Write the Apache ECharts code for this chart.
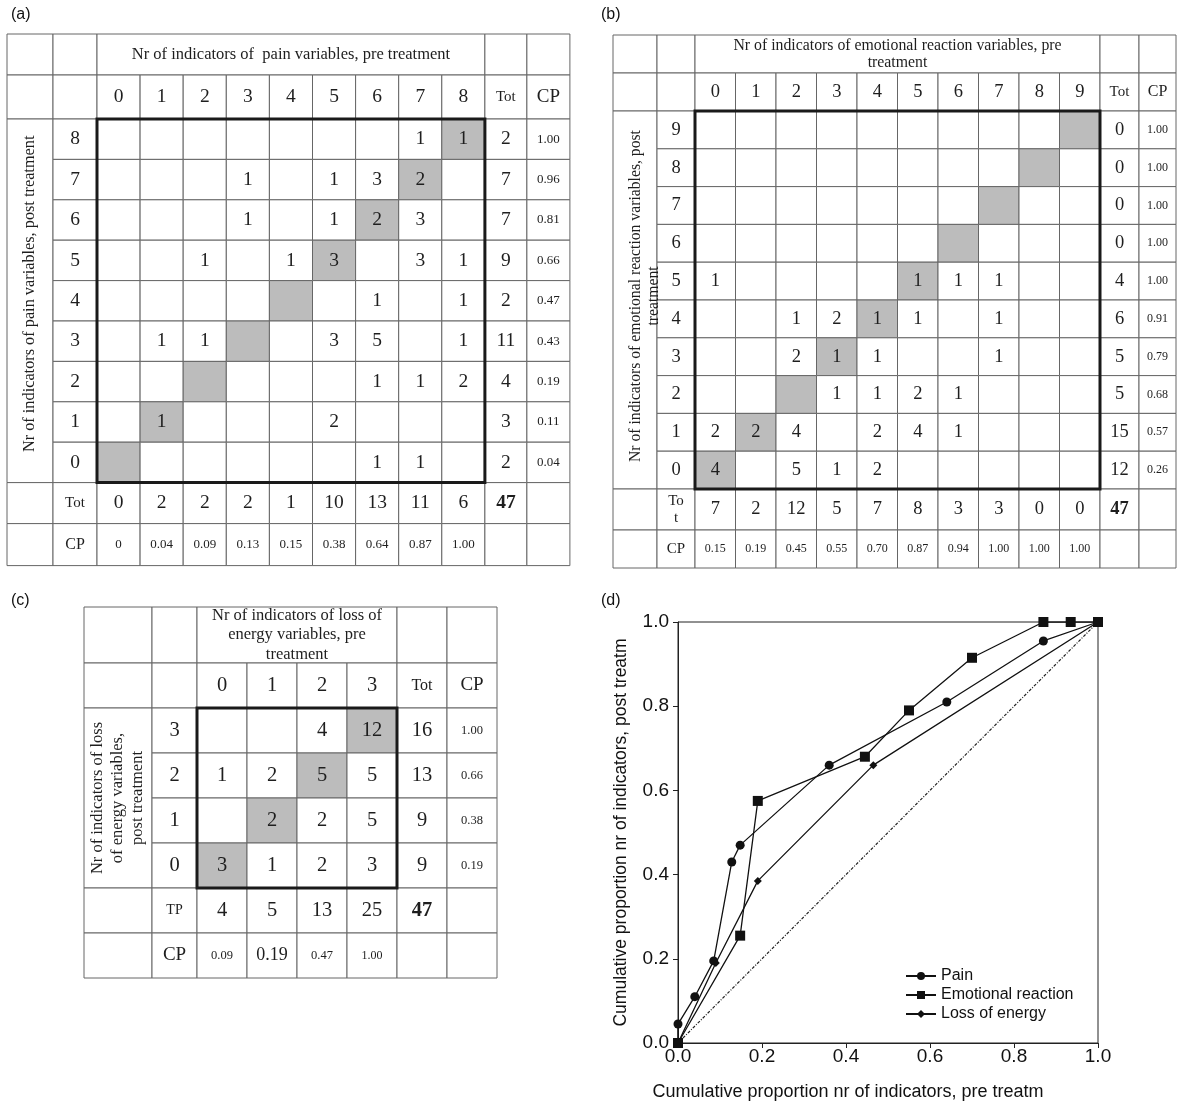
<!DOCTYPE html>
<html>
<head>
<meta charset="utf-8">
<script src="https://cdn.jsdelivr.net/npm/echarts@6/dist/echarts.min.js"></script>
<style>html,body{margin:0;padding:0;background:#fff}#c{width:1178px;height:1106px}</style>
</head>
<body>
<div id="c"></div>
<script>
// ===================== DATA =====================
// (a) Pain
const painPre = ['0','1','2','3','4','5','6','7','8'];
const painPost = ['8','7','6','5','4','3','2','1','0'];
const painCounts = [
  [null,null,null,null,null,null,null,1,1],
  [null,null,null,1,null,1,3,2,null],
  [null,null,null,1,null,1,2,3,null],
  [null,null,1,null,1,3,null,3,1],
  [null,null,null,null,null,null,1,null,1],
  [null,1,1,null,null,3,5,null,1],
  [null,null,null,null,null,null,1,1,2],
  [null,1,null,null,null,2,null,null,null],
  [null,null,null,null,null,null,1,1,null]
];
const painRowTot = [2,7,7,9,2,11,4,3,2];
const painRowCP = ['1.00','0.96','0.81','0.66','0.47','0.43','0.19','0.11','0.04'];
const painColTot = [0,2,2,2,1,10,13,11,6];
const painColCP = ['0','0.04','0.09','0.13','0.15','0.38','0.64','0.87','1.00'];
const painTotal = 47;

// (b) Emotional reaction
const emoPre = ['0','1','2','3','4','5','6','7','8','9'];
const emoPost = ['9','8','7','6','5','4','3','2','1','0'];
const emoCounts = [
  [null,null,null,null,null,null,null,null,null,null],
  [null,null,null,null,null,null,null,null,null,null],
  [null,null,null,null,null,null,null,null,null,null],
  [null,null,null,null,null,null,null,null,null,null],
  [1,null,null,null,null,1,1,1,null,null],
  [null,null,1,2,1,1,null,1,null,null],
  [null,null,2,1,1,null,null,1,null,null],
  [null,null,null,1,1,2,1,null,null,null],
  [2,2,4,null,2,4,1,null,null,null],
  [4,null,5,1,2,null,null,null,null,null]
];
const emoRowTot = [0,0,0,0,4,6,5,5,15,12];
const emoRowCP = ['1.00','1.00','1.00','1.00','1.00','0.91','0.79','0.68','0.57','0.26'];
const emoColTot = [7,2,12,5,7,8,3,3,0,0];
const emoColCP = ['0.15','0.19','0.45','0.55','0.70','0.87','0.94','1.00','1.00','1.00'];
const emoTotal = 47;

// (c) Loss of energy
const energyPre = ['0','1','2','3'];
const energyPost = ['3','2','1','0'];
const energyCounts = [
  [null,null,4,12],
  [1,2,5,5],
  [null,2,2,5],
  [3,1,2,3]
];
const energyRowTot = [16,13,9,9];
const energyRowCP = ['1.00','0.66','0.38','0.19'];
const energyColTot = [4,5,13,25];
const energyColCP = ['0.09','0.19','0.47','1.00'];
const energyTotal = 47;

// (d) Cumulative proportions (pre = x, post = y)
const painX = [0, 0, 0.04, 0.085, 0.128, 0.148, 0.36, 0.64, 0.87, 1.00];
const painY = [0, 0.045, 0.11, 0.195, 0.43, 0.47, 0.66, 0.81, 0.955, 1.00];
const emoX = [0, 0.148, 0.19, 0.445, 0.55, 0.70, 0.87, 0.935, 1.00];
const emoY = [0, 0.255, 0.575, 0.68, 0.79, 0.915, 1.00, 1.00, 1.00];
const energyX = [0, 0.09, 0.19, 0.465, 1.00];
const energyY = [0, 0.19, 0.385, 0.66, 1.00];
const diagX = [0, 1];
const diagY = [0, 1];

// ===================== TABLE BUILDER =====================
const SERIF = "'Liberation Serif','Times New Roman',serif";
const SANS = "'Liberation Sans',Arial,sans-serif";

function buildTable(T, L, idx) {
  const nC = T.pre.length, nR = T.post.length;
  const edgesX = [0]; L.colW.forEach(w => edgesX.push(edgesX[edgesX.length-1] + w));
  const edgesY = [0]; L.rowH.forEach(h => edgesY.push(edgesY[edgesY.length-1] + h));
  const W = edgesX[edgesX.length-1], H = edgesY[edgesY.length-1];
  const cells = [];
  const add = (c, r, cs, rs, text, size, extra) => cells.push(Object.assign({c, r, cs, rs, text: text == null ? '' : String(text), size}, extra || {}));
  const cTot = 2 + nC, cCP = 3 + nC, rTot = 2 + nR, rCP = 3 + nR;
  // header row
  add(0, 0, 1, 1, '', 0); add(1, 0, 1, 1, '', 0);
  add(2, 0, nC, 1, T.header, L.fHeader, {lh: L.headerLH});
  add(cTot, 0, 1, 1, '', 0); add(cCP, 0, 1, 1, '', 0);
  // column label row
  add(0, 1, 1, 1, '', 0); add(1, 1, 1, 1, '', 0);
  T.pre.forEach((p, i) => add(2 + i, 1, 1, 1, p, L.fNum));
  add(cTot, 1, 1, 1, 'Tot', L.fTotHead); add(cCP, 1, 1, 1, 'CP', L.fCPHead);
  // side label
  add(0, 2, 1, nR, '', 0);
  // data rows
  T.post.forEach((q, r) => {
    add(1, 2 + r, 1, 1, q, L.fNum);
    for (let c = 0; c < nC; c++) {
      const diag = T.pre[c] === q;
      add(2 + c, 2 + r, 1, 1, T.counts[r][c], L.fNum, {fill: diag ? '#bcbcbc' : null});
    }
    add(cTot, 2 + r, 1, 1, T.rowTot[r], L.fNum);
    add(cCP, 2 + r, 1, 1, T.rowCP[r], L.fCP);
  });
  // total row
  add(0, rTot, 1, 1, '', 0);
  add(1, rTot, 1, 1, T.totLabel, L.fTotLabel, {lh: L.fTotLabel + 2});
  T.colTot.forEach((v, i) => add(2 + i, rTot, 1, 1, v, L.fNum));
  add(cTot, rTot, 1, 1, T.total, L.fNum, {bold: true});
  add(cCP, rTot, 1, 1, '', 0);
  // CP row
  add(0, rCP, 1, 1, '', 0);
  add(1, rCP, 1, 1, 'CP', L.fCPLabel);
  T.colCP.forEach((v, i) => add(2 + i, rCP, 1, 1, v, L.colCPSize ? L.colCPSize[i] : L.fCP));
  add(cTot, rCP, 1, 1, '', 0); add(cCP, rCP, 1, 1, '', 0);
  // side label text (rotated)
  add(0, 2, 1, nR, T.side, L.fSide, {rot: true, noRect: true, lh: L.sideLH, dx: L.sideDx || 0, dy: L.sideDy || 0});
  // thick box around the cross-tab
  add(2, 2, nC, nR, '', 0, {box: true});

  return {
    grid: {left: L.left, top: L.top, width: W, height: H, containLabel: false},
    xAxis: {type: 'value', gridIndex: idx, min: 0, max: W, show: false},
    yAxis: {type: 'value', gridIndex: idx, min: 0, max: H, inverse: true, show: false},
    series: {
      type: 'custom', xAxisIndex: idx, yAxisIndex: idx, silent: true, animation: false,
      data: cells.map(c => [c.c, c.r, c.cs, c.rs]),
      renderItem: function (params, api) {
        const cell = cells[params.dataIndex];
        const c0 = api.value(0), r0 = api.value(1), cs = api.value(2), rs = api.value(3);
        const p0 = api.coord([edgesX[c0], edgesY[r0]]);
        const p1 = api.coord([edgesX[c0 + cs], edgesY[r0 + rs]]);
        const x = Math.min(p0[0], p1[0]), y = Math.min(p0[1], p1[1]);
        const w = Math.abs(p1[0] - p0[0]), h = Math.abs(p1[1] - p0[1]);
        const children = [];
        if (cell.box) {
          children.push({type: 'rect', shape: {x, y, width: w, height: h}, style: {fill: null, stroke: '#1a1a1a', lineWidth: 3}, z2: 10});
        } else if (!cell.noRect) {
          children.push({type: 'rect', shape: {x, y, width: w, height: h}, style: {fill: cell.fill || '#fff', stroke: '#666', lineWidth: 1}});
        }
        if (cell.text) {
          children.push({
            type: 'text', x: x + w / 2 + (cell.dx || 0), y: y + h / 2 + (cell.dy || 0),
            rotation: cell.rot ? Math.PI / 2 : 0,
            style: {text: cell.text, align: 'center', verticalAlign: 'middle',
              fontFamily: SERIF, fontSize: cell.size, fontWeight: cell.bold ? 'bold' : 'normal',
              lineHeight: cell.lh || Math.round(cell.size * 1.15), fill: '#1e1e1e'},
            z2: 5
          });
        }
        return {type: 'group', children};
      }
    }
  };
}

const tA = buildTable({
  pre: painPre, post: painPost, counts: painCounts, rowTot: painRowTot, rowCP: painRowCP,
  colTot: painColTot, colCP: painColCP, total: painTotal,
  header: 'Nr of indicators of  pain variables, pre treatment',
  side: 'Nr of indicators of pain variables, post treatment', totLabel: 'Tot'
}, {left: 7, top: 34, colW: [46, 44, 43.1, 43.1, 43.1, 43.1, 43.1, 43.1, 43.1, 43.1, 43.1, 42, 43],
    rowH: [41, 44, 40.4, 40.4, 40.4, 40.4, 40.4, 40.4, 40.4, 40.4, 40.4, 41, 42],
    fHeader: 16.5, headerLH: 18, fNum: 19.5, fTotHead: 15, fCPHead: 19, fCP: 13, fTotLabel: 15, fCPLabel: 16, fSide: 16.3, sideDy: -7}, 0);

const tB = buildTable({
  pre: emoPre, post: emoPost, counts: emoCounts, rowTot: emoRowTot, rowCP: emoRowCP,
  colTot: emoColTot, colCP: emoColCP, total: emoTotal,
  header: 'Nr of indicators of emotional reaction variables, pre\ntreatment',
  side: 'Nr of indicators of emotional reaction variables, post\ntreatment', totLabel: 'To\nt'
}, {left: 613, top: 35, colW: [44, 38, 40.5, 40.5, 40.5, 40.5, 40.5, 40.5, 40.5, 40.5, 40.5, 40.5, 39, 37],
    rowH: [38, 38, 37.8, 37.8, 37.8, 37.8, 37.8, 37.8, 37.8, 37.8, 37.8, 37.8, 41, 38],
    fHeader: 15.8, headerLH: 17, fNum: 18.5, fTotHead: 15, fCPHead: 16, fCP: 12, fTotLabel: 15, fCPLabel: 15, fSide: 15.7, sideLH: 18, sideDx: 10, sideDy: -4}, 1);

const tC = buildTable({
  pre: energyPre, post: energyPost, counts: energyCounts, rowTot: energyRowTot, rowCP: energyRowCP,
  colTot: energyColTot, colCP: energyColCP, total: energyTotal,
  header: 'Nr of indicators of loss of\nenergy variables, pre\ntreatment',
  side: 'Nr of indicators of loss\nof energy variables,\npost treatment', totLabel: 'TP'
}, {left: 84, top: 607, colW: [68, 45, 50, 50, 50, 50, 50, 50],
    rowH: [56, 45, 45, 45, 45, 45, 45, 45],
    fHeader: 16.5, headerLH: 19.5, fNum: 20.5, fTotHead: 16, fCPHead: 19, fCP: 12.5, fTotLabel: 14, fCPLabel: 19,
    fSide: 16.5, sideLH: 20, colCPSize: [12.5, 18, 12.5, 12]}, 2);

// ===================== CHART =====================
const chart = echarts.init(document.getElementById('c'), null, {renderer: 'canvas'});
const zip = (xs, ys) => xs.map((x, i) => [x, ys[i]]);
const lineCommon = {type: 'line', xAxisIndex: 3, yAxisIndex: 3, animation: false,
  lineStyle: {color: '#111', width: 1.3}, itemStyle: {color: '#111'}, emphasis: {disabled: true}};

const titleStyle = {fontFamily: SANS, fontSize: 16, fontWeight: 'normal', color: '#111'};
const option = {
  backgroundColor: '#fff',
  title: [
    {text: '(a)', left: 6, top: 2, textStyle: titleStyle},
    {text: '(b)', left: 596, top: 2, textStyle: titleStyle},
    {text: '(c)', left: 6, top: 588, textStyle: titleStyle},
    {text: '(d)', left: 596, top: 588, textStyle: titleStyle}
  ],
  grid: [tA.grid, tB.grid, tC.grid,
    {left: 678, top: 622, width: 420, height: 421, show: true, borderColor: '#222', borderWidth: 1, backgroundColor: 'transparent'}],
  xAxis: [tA.xAxis, tB.xAxis, tC.xAxis, {
    type: 'value', gridIndex: 3, min: 0, max: 1, interval: 0.2,
    axisLine: {show: true, lineStyle: {color: '#222', width: 1}},
    axisTick: {show: true, inside: false, length: 5, lineStyle: {color: '#222'}},
    axisLabel: {fontFamily: SANS, fontSize: 19, color: '#111', margin: 4, formatter: v => v.toFixed(1)},
    splitLine: {show: false},
    name: 'Cumulative proportion nr of indicators, pre treatm', nameLocation: 'middle', nameGap: 40,
    nameTextStyle: {fontFamily: SANS, fontSize: 18, color: '#111', padding: [0, 80, 0, 0]}
  }],
  yAxis: [tA.yAxis, tB.yAxis, tC.yAxis, {
    type: 'value', gridIndex: 3, min: 0, max: 1, interval: 0.2,
    axisLine: {show: true, lineStyle: {color: '#222', width: 1}},
    axisTick: {show: true, inside: false, length: 5, lineStyle: {color: '#222'}},
    axisLabel: {fontFamily: SANS, fontSize: 19, color: '#111', margin: 9, formatter: v => v.toFixed(1)},
    splitLine: {show: false},
    name: 'Cumulative proportion nr of indicators, post treatm', nameLocation: 'middle', nameGap: 48,
    nameTextStyle: {fontFamily: SANS, fontSize: 17.5, color: '#111'}
  }],
  legend: {
    data: ['Pain', 'Emotional reaction', 'Loss of energy'], orient: 'vertical', left: 900, top: 963,
    itemWidth: 30, itemHeight: 10, itemGap: 3, selectedMode: false,
    textStyle: {fontFamily: SANS, fontSize: 16, color: '#111'}
  },
  series: [tA.series, tB.series, tC.series,
    Object.assign({}, lineCommon, {name: 'Diagonal', data: zip(diagX, diagY), symbol: 'none',
      lineStyle: {color: '#222', width: 1.2, type: [3, 1.5, 1, 1.5]}, z: 1}),
    Object.assign({}, lineCommon, {name: 'Loss of energy', data: zip(energyX, energyY), symbol: 'diamond', symbolSize: 8}),
    Object.assign({}, lineCommon, {name: 'Emotional reaction', data: zip(emoX, emoY), symbol: 'rect', symbolSize: 10}),
    Object.assign({}, lineCommon, {name: 'Pain', data: zip(painX, painY), symbol: 'circle', symbolSize: 9})
  ]
};
chart.setOption(option);
</script>
</body>
</html>
